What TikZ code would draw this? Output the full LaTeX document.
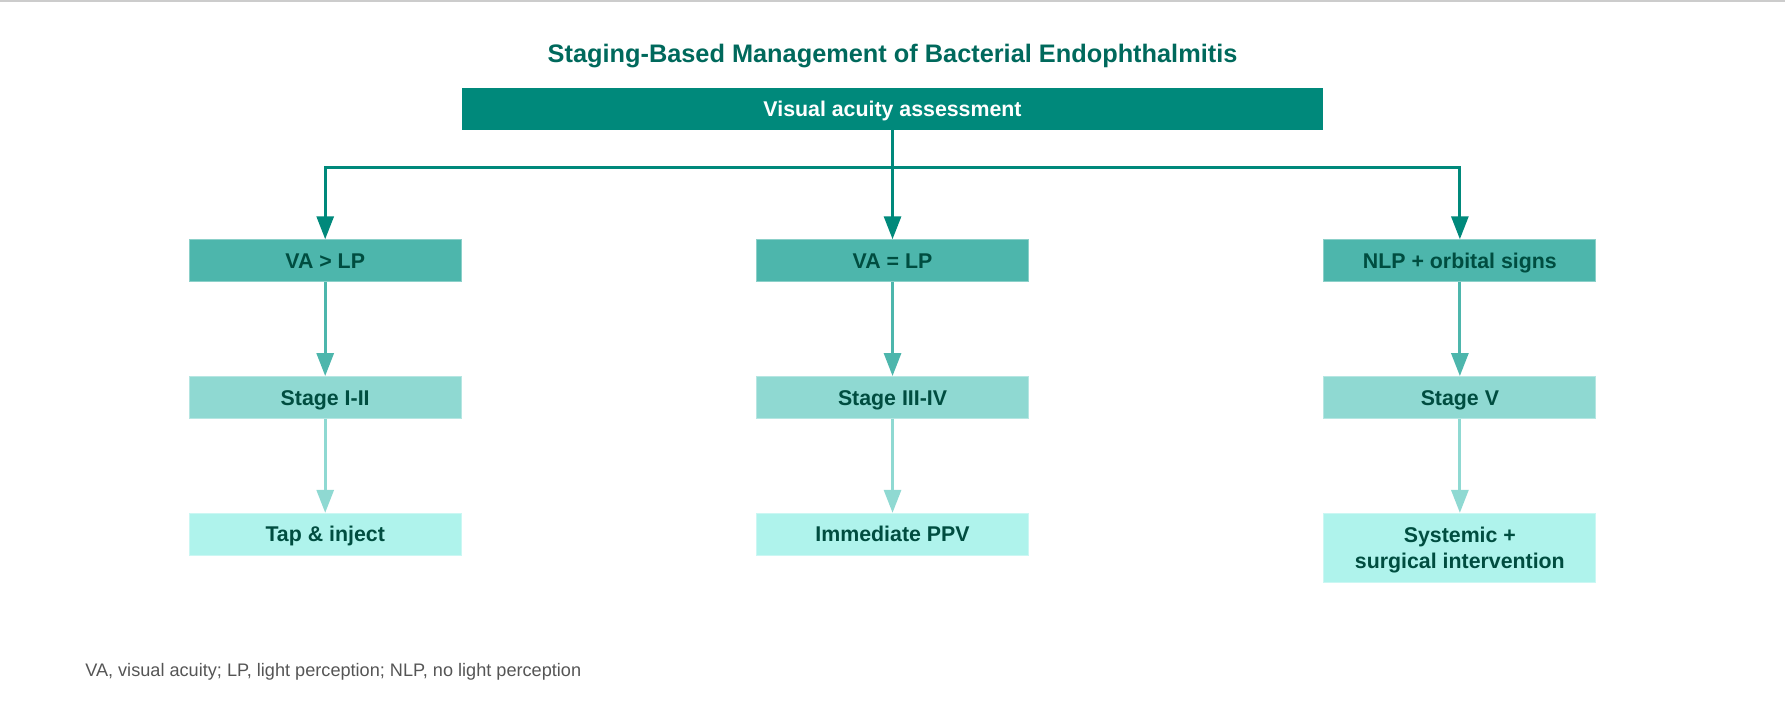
\documentclass[tikz,border=0pt]{standalone}
\usepackage{fontspec}
\setmainfont{Liberation Sans}
\usetikzlibrary{
  positioning,
  arrows.meta,
}
\definecolor{tealA}{HTML}{00897B}
\definecolor{tealB}{HTML}{4DB6AC}
\definecolor{tealC}{HTML}{8FD9D2}
\definecolor{tealD}{HTML}{AFF3EC}
\definecolor{tealText}{HTML}{004D40}
\definecolor{tealTitle}{HTML}{00695C}
\definecolor{noteGray}{HTML}{555555}
\definecolor{rule}{HTML}{CCCCCC}
\tikzset{
  box/.style = {
    rectangle,
    fill = #1,
    draw = #1!65!white,
    line width = .6pt,
    text = tealText,
    font = \fontsize{16}{20}\selectfont\bfseries,
    minimum width = 204pt,
    minimum height = 31.5pt,
    text height = 13pt,
    text depth = 1.6pt,
    align = center,
    inner sep = 4pt
  },
  head/.style = {
    rectangle,
    fill = tealA,
    text = white,
    font = \fontsize{16}{20}\selectfont\bfseries,
    text height = 13pt,
    text depth = 1.6pt,
    minimum width = 645.75pt,
    minimum height = 31.5pt
  },
  con/.style = {
    -{Triangle[width = 12.75pt, length = 17.25pt]},
    line width = 2.25pt,
    draw = #1
  }
}
\newcommand{\connectV}[3]{
  \draw[con = #3] (#1.south) -- (#2.north);
}

\begin{document}
\begin{tikzpicture}
  \useasboundingbox (0,0) rectangle (1338.75pt,-534.75pt);
  \draw[rule, line width = 1.2pt] (0,-.6pt) -- (1338.75pt,-.6pt);

  % Title.
  \node[text = tealTitle, font = \fontsize{19}{23}\selectfont\bfseries] (Ti)
    at (669.4pt,-42.25pt) {Staging-Based Management of Bacterial Endophthalmitis};

  % Assessment.
  \node[head] (VA) at (669.4pt,-81.75pt) {Visual acuity assessment};

  % Visual acuity groups.
  \node[box = tealB] (Gm) [below = 81.75pt of VA] {VA = LP};
  \node[box = tealB] (Gl) [left = 220.9pt of Gm] {VA > LP};
  \node[box = tealB] (Gr) [right = 220.9pt of Gm] {NLP + orbital signs};

  % Stages.
  \node[box = tealC] (Sl) [below = 70.5pt of Gl] {Stage I-II};
  \node[box = tealC] (Sm) [below = 70.5pt of Gm] {Stage III-IV};
  \node[box = tealC] (Sr) [below = 70.5pt of Gr] {Stage V};

  % Treatment.
  \node[box = tealD] (Tl) [below = 70.5pt of Sl] {Tap \& inject};
  \node[box = tealD] (Tm) [below = 70.5pt of Sm] {Immediate PPV};
  \node[box = tealD, text height = 33pt, minimum height = 51.75pt] (Tr)
    [below = 70.5pt of Sr] {Systemic +\\surgical intervention};

  % Footnote.
  \node[anchor = west, inner xsep = 0pt, text = noteGray,
    font = \fontsize{13.6}{16}\selectfont] (Fn)
    at (63.75pt,-504pt) {VA, visual acuity; LP, light perception; NLP, no light perception};

  % Connections.
  \coordinate[below = 27.75pt of VA.south] (bus);
  \draw[con = tealA] (VA.south) -- (bus) -| (Gl.north);
  \draw[con = tealA] (VA.south) -- (Gm.north);
  \draw[con = tealA] (VA.south) -- (bus) -| (Gr.north);
  \connectV{Gl}{Sl}{tealB};
  \connectV{Gm}{Sm}{tealB};
  \connectV{Gr}{Sr}{tealB};
  \connectV{Sl}{Tl}{tealC};
  \connectV{Sm}{Tm}{tealC};
  \connectV{Sr}{Tr}{tealC};
\end{tikzpicture}
\end{document}
